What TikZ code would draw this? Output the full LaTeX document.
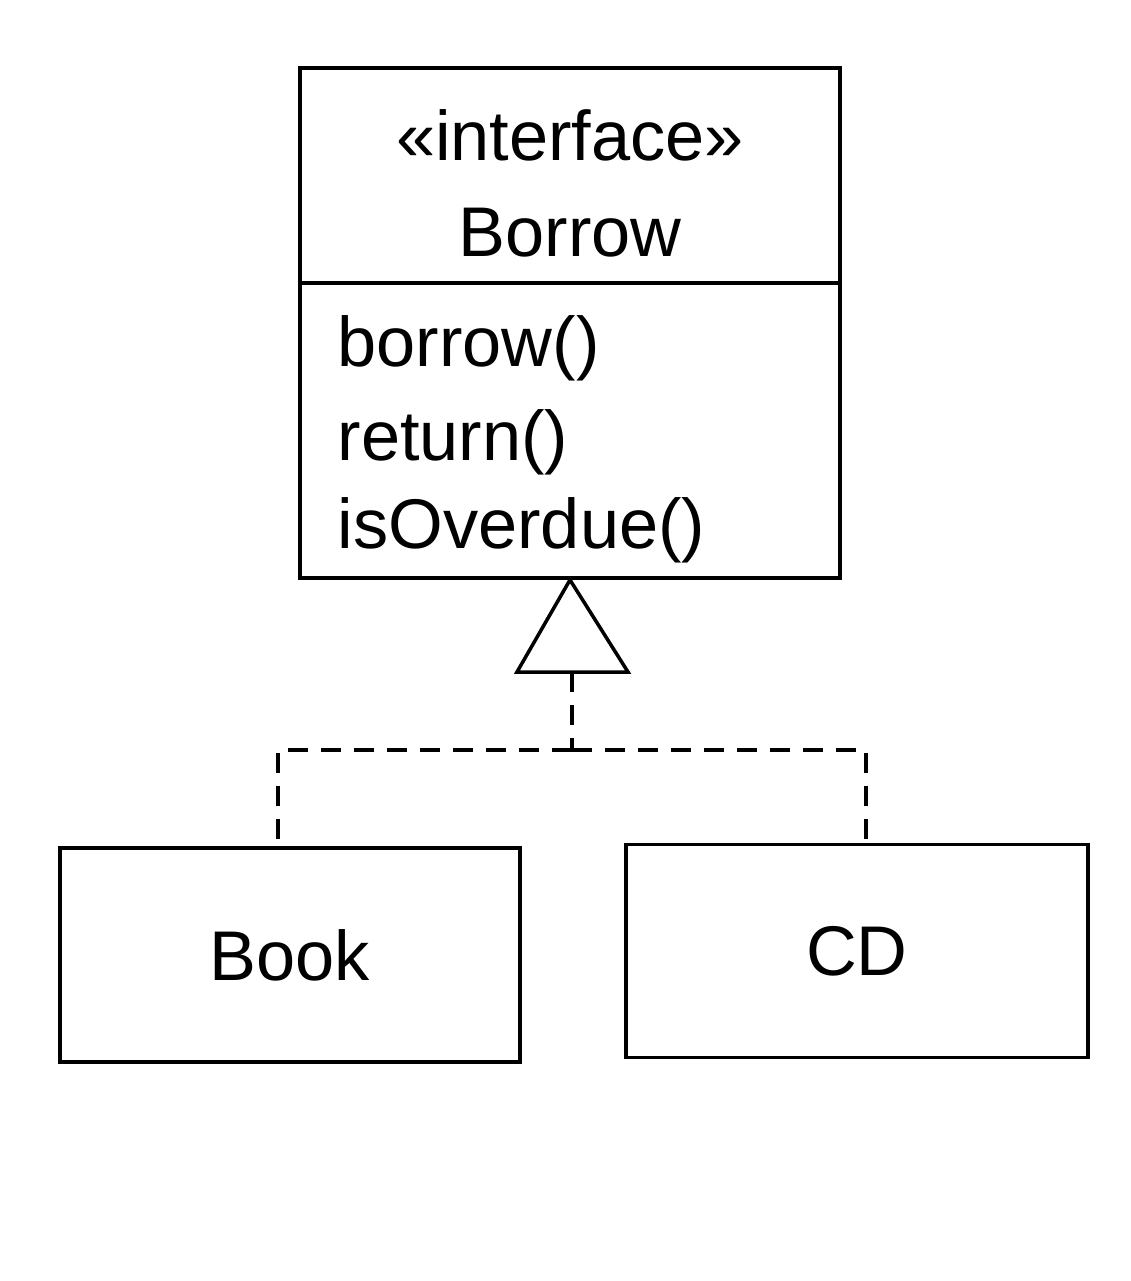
\documentclass[tikz,border=0pt]{standalone}
\usepackage{fontspec}
\setmainfont{Liberation Sans}
\usetikzlibrary{positioning,shapes.geometric}

\tikzset{
  classbox/.style={draw, line width=1pt, rectangle, inner sep=0pt},
  label/.style={font=\fontsize{20}{24}\selectfont, inner sep=0pt},
  realize/.style={dashed, line width=1pt, dash pattern=on 0.2cm off 0.13cm}
}

\begin{document}
\begin{tikzpicture}[x=0.01cm, y=-0.01cm]
      \useasboundingbox (0,0) rectangle (1131,1281);

      % Define the interface box
      \node[classbox, minimum width=5.40cm, minimum height=5.10cm] (iface) at (570,323) {};
      \coordinate (divl) at (300,283);
      \coordinate (divr) at (840,283);
      \draw[line width=1pt] (divl) -- (divr);

      % Texts of the interface
      \node[label, anchor=base] (stereo) at (570,160) {«interface»};
      \node[label, anchor=base] (name) at (570,256) {Borrow};
      \node[label, anchor=base west] (m1) at (337,366) {borrow()};
      \node[label, anchor=base west] (m2) at (337,460) {return()};
      \node[label, anchor=base west] (m3) at (337,548) {isOverdue()};

      % Define the implementing classes
      \node[classbox, minimum width=4.60cm, minimum height=2.14cm, label] (book) at (290,955) {Book};
      \node[classbox, minimum width=4.62cm, minimum height=2.13cm, label] (cd) at (857,951) {CD};

      % Draw the realization triangle
      \coordinate (apex) at (iface.south);
      \coordinate (tribase) at (572,672);
      \coordinate (join) at (572,750);
      \draw[line width=1pt, fill=white] (apex) -- (517,672) -- (628,672) -- cycle;

      % Draw the dashed lines from the classes to the triangle
      \draw[realize] (tribase) -- (join);
      \draw[realize] (join) -| ([xshift=-0.12cm]book.north);
      \draw[realize] (join) -| ([xshift=0.09cm]cd.north);
\end{tikzpicture}
\end{document}
